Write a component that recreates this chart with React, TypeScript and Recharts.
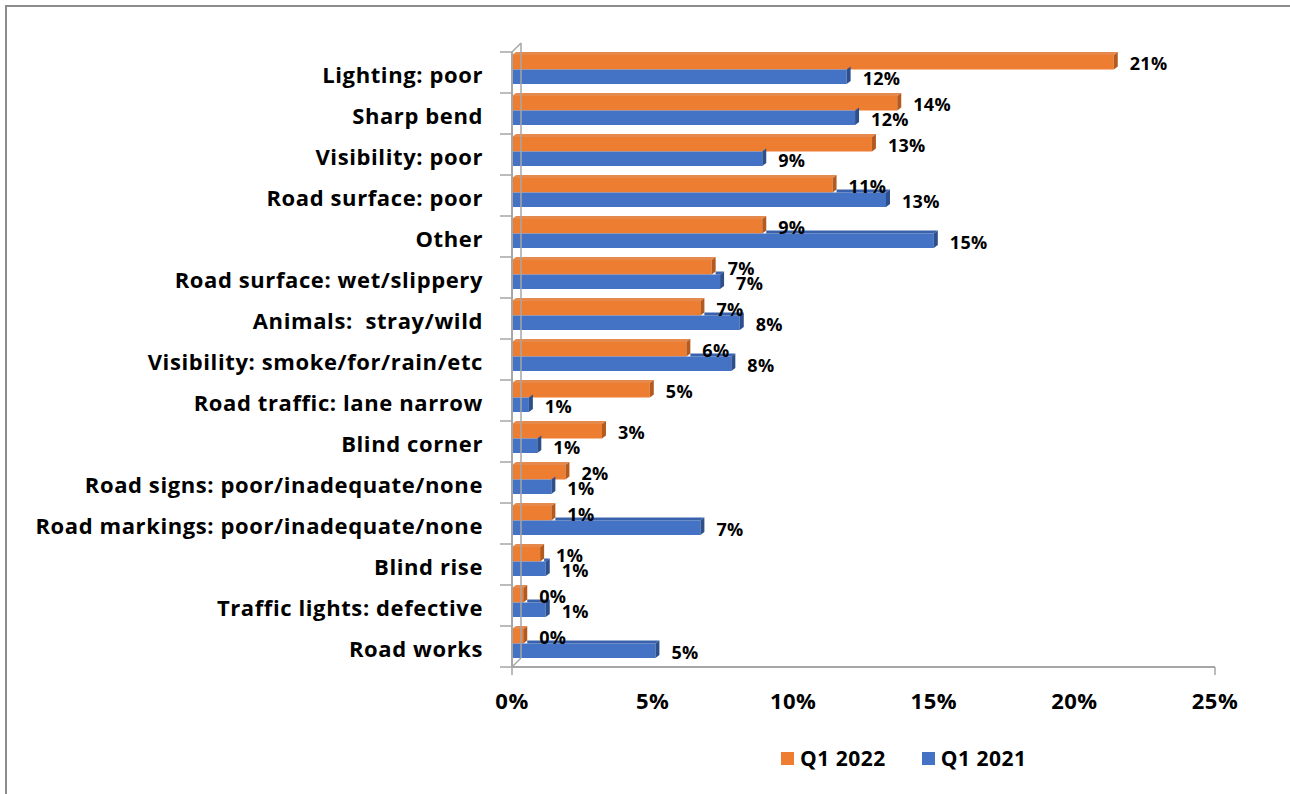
import React from 'react';
import { BarChart, Bar, XAxis, YAxis, Legend, LabelList } from 'recharts';

// ─── Data ─────────────────────────────────────────────────────────────────────

const categories = [
  'Lighting: poor',
  'Sharp bend',
  'Visibility: poor',
  'Road surface: poor',
  'Other',
  'Road surface: wet/slippery',
  'Animals:  stray/wild',
  'Visibility: smoke/for/rain/etc',
  'Road traffic: lane narrow',
  'Blind corner',
  'Road signs: poor/inadequate/none',
  'Road markings: poor/inadequate/none',
  'Blind rise',
  'Traffic lights: defective',
  'Road works',
];

const seriesNames = ['Q1 2022', 'Q1 2021'];
const q1_2022 = [21.4, 13.7, 12.8, 11.4, 8.9, 7.1, 6.7, 6.2, 4.9, 3.2, 1.9, 1.4, 1.0, 0.4, 0.4];
const q1_2021 = [11.9, 12.2, 8.9, 13.3, 15.0, 7.4, 8.1, 7.8, 0.6, 0.9, 1.4, 6.7, 1.2, 1.2, 5.1];

const xTicks = [0, 5, 10, 15, 20, 25];

const data = categories.map((name, i) => ({ name, q2022: q1_2022[i], q2021: q1_2021[i] }));

// ─── Layout ───────────────────────────────────────────────────────────────────

const W = 1290;
const H = 794;
const PLOT_TOP = 52;
const PLOT_BOTTOM = 667;
const PLOT_LEFT = 512;
const PLOT_RIGHT = 1215;
const AXIS_H = 77;
const LEGEND_H = 30;
const BAND = (PLOT_BOTTOM - PLOT_TOP) / categories.length;

// 3D look
const DX = 4;
const DY = 3;
const LIFT = 3;
const WALL = 9;

const FONT = '"Open Sans", "Noto Sans", sans-serif';
const AXIS_COLOR = '#a6a6a6';

const ORANGE = { front: '#ED7D31', top: '#E58A4C', side: '#B55A1E' };
const BLUE = { front: '#4472C4', top: '#3A62AC', side: '#2D4F8C' };

// ─── Helpers ──────────────────────────────────────────────────────────────────

function box3D(colors: typeof ORANGE, ownKey: string, coverKey?: string) {
  return (p: any) => {
    const x = p.x;
    const w = Math.max(p.width, 0);
    const h = p.height;
    const y = p.y - LIFT;
    const own = p.payload?.[ownKey] ?? 0;
    let start = x;
    if (coverKey && own > 0) {
      const coverW = (p.payload[coverKey] / own) * w;
      start = x + coverW + DX;
    }
    let topFace = null;
    if (start <= x) {
      topFace = `${x},${y} ${x + DX},${y - DY} ${x + w + DX},${y - DY} ${x + w},${y}`;
    } else if (start < x + w + DX) {
      topFace = `${Math.min(start, x + w)},${y} ${start},${y - DY} ${x + w + DX},${y - DY} ${x + w},${y}`;
    }
    return (
      <g>
        <rect x={x} y={y} width={w} height={h} fill={colors.front} />
        {topFace && <polygon points={topFace} fill={colors.top} />}
        <polygon
          points={`${x + w},${y} ${x + w + DX},${y - DY} ${x + w + DX},${y + h - DY} ${x + w},${y + h}`}
          fill={colors.side}
        />
      </g>
    );
  };
}

function ValueLabel(props: any) {
  const { x, y, width, height, value } = props;
  return (
    <text
      x={x + width + DX + 12}
      y={y + height / 2 - LIFT + 1}
      dominantBaseline="central"
      fontFamily={FONT}
      fontWeight={700}
      fontSize={18}
      letterSpacing={0.3}
      fill="#000"
    >
      {Math.round(value)}%
    </text>
  );
}

function XTick({ x, y, payload }: any) {
  const edge = payload.value === xTicks[0] || payload.value === xTicks[xTicks.length - 1];
  return (
    <g>
      {edge && <line x1={x} y1={y} x2={x} y2={y + 8} stroke={AXIS_COLOR} strokeWidth={1.5} />}
      <text
        x={x}
        y={y + 33}
        dominantBaseline="central"
        textAnchor="middle"
        fontFamily={FONT}
        fontWeight={700}
        fontSize={22}
        letterSpacing={0.5}
        fill="#000"
      >
        {payload.value}%
      </text>
    </g>
  );
}

function YTick({ x, y, payload, index }: any) {
  const half = BAND / 2;
  const i = payload?.index ?? index;
  const last = i === categories.length - 1;
  return (
    <g>
      <line x1={x - 12} y1={y - half} x2={x} y2={y - half} stroke={AXIS_COLOR} strokeWidth={1.5} />
      {last && <line x1={x - 12} y1={y + half} x2={x} y2={y + half} stroke={AXIS_COLOR} strokeWidth={1.5} />}
      <line
        x1={x + WALL}
        y1={y - half - WALL}
        x2={x + WALL}
        y2={y + half - WALL}
        stroke={AXIS_COLOR}
        strokeWidth={1.5}
      />
      {i === 0 && (
        <line x1={x} y1={y - half} x2={x + WALL} y2={y - half - WALL} stroke={AXIS_COLOR} strokeWidth={1.5} />
      )}
      {last && (
        <line x1={x} y1={y + half} x2={x + WALL} y2={y + half - WALL} stroke={AXIS_COLOR} strokeWidth={1.5} />
      )}
      <text
        x={x - 29}
        y={y + 1.5}
        dominantBaseline="central"
        textAnchor="end"
        fontFamily={FONT}
        fontWeight={700}
        fontSize={22}
        letterSpacing={0.6}
        fill="#000"
        style={{ whiteSpace: 'pre' }}
      >
        {payload.value}
      </text>
    </g>
  );
}

function LegendContent({ payload }: any) {
  const items = [...(payload || [])].sort(
    (a: any, b: any) => seriesNames.indexOf(a.value) - seriesNames.indexOf(b.value),
  );
  return (
    <div
      style={{
        display: 'flex',
        alignItems: 'center',
        gap: 36,
        fontFamily: FONT,
        fontWeight: 700,
        fontSize: 21,
        letterSpacing: 0.5,
      }}
    >
      {items.map((p: any) => (
        <div key={p.value} style={{ display: 'flex', alignItems: 'center' }}>
          <span style={{ width: 13, height: 13, background: p.color, marginRight: 6, display: 'inline-block' }} />
          <span>{p.value}</span>
        </div>
      ))}
    </div>
  );
}

// ─── App ──────────────────────────────────────────────────────────────────────

export default function App() {
  return (
    <div style={{ position: 'fixed', left: 0, top: 0, width: W, height: H, background: '#fff', overflow: 'hidden' }}>
      <div
        style={{
          position: 'absolute',
          left: 5,
          top: 5,
          width: W,
          height: H,
          borderTop: '2px solid #8c8c8c',
          borderLeft: '2px solid #8c8c8c',
        }}
      />
      <div style={{ position: 'absolute', left: 0, top: 0 }}>
        <BarChart
          width={W}
          height={H}
          data={data}
          layout="vertical"
          margin={{ top: PLOT_TOP, right: W - PLOT_RIGHT, left: 0, bottom: H - PLOT_BOTTOM - AXIS_H - LEGEND_H }}
          barGap={0}
          barSize={14.5}
        >
          <XAxis
            type="number"
            domain={[0, 25]}
            ticks={xTicks}
            height={AXIS_H}
            tickSize={0}
            tickMargin={0}
            tick={<XTick />}
            axisLine={{ stroke: AXIS_COLOR, strokeWidth: 2 }}
            tickLine={false}
          />
          <YAxis
            type="category"
            dataKey="name"
            width={PLOT_LEFT}
            tickSize={0}
            tickMargin={0}
            tick={<YTick />}
            axisLine={{ stroke: AXIS_COLOR, strokeWidth: 2 }}
            tickLine={false}
            interval={0}
          />
          <Legend
            verticalAlign="bottom"
            wrapperStyle={{ left: 781, width: 320, height: LEGEND_H }}
            content={<LegendContent />}
          />
          <Bar
            dataKey="q2022"
            name={seriesNames[0]}
            fill={ORANGE.front}
            shape={box3D(ORANGE, 'q2022')}
            isAnimationActive={false}
          >
            <LabelList dataKey="q2022" content={<ValueLabel />} />
          </Bar>
          <Bar
            dataKey="q2021"
            name={seriesNames[1]}
            fill={BLUE.front}
            shape={box3D(BLUE, 'q2021', 'q2022')}
            isAnimationActive={false}
          >
            <LabelList dataKey="q2021" content={<ValueLabel />} />
          </Bar>
        </BarChart>
      </div>
    </div>
  );
}
